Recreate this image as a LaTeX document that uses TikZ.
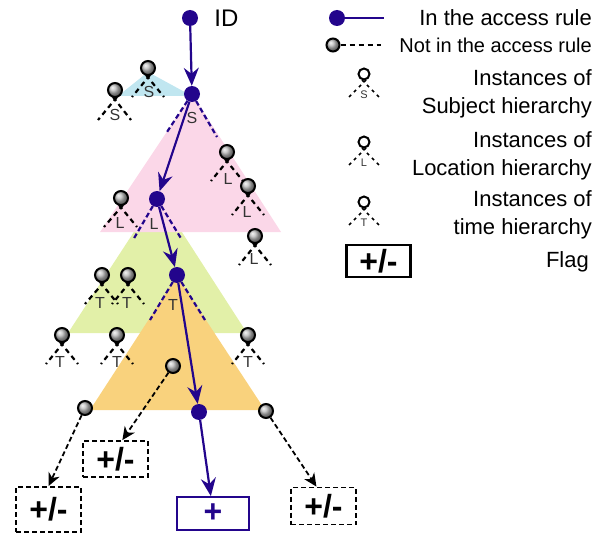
\documentclass[tikz,border=0pt]{standalone}
\usepackage{fontspec}
\setmainfont{Liberation Sans}
\usetikzlibrary{arrows.meta,positioning}

\definecolor{rulecol}{RGB}{35,5,140}
\definecolor{subjcol}{RGB}{192,230,240}
\definecolor{loccol}{RGB}{251,215,232}
\definecolor{timecol}{RGB}{226,240,168}
\definecolor{flagcol}{RGB}{249,210,125}

\tikzset{
  rulenode/.style={circle, fill=rulecol, inner sep=0pt, minimum size=16pt},
  instnode/.style={circle, draw=black, line width=2pt, shading=ball, ball color=gray!55, inner sep=0pt, minimum size=14pt},
  ringnode/.style={circle, draw=black, line width=2pt, fill=white, inner sep=0pt, minimum size=11pt},
  ruleleg/.style={rulecol, line width=2.2pt, dash pattern=on 5pt off 3pt},
  instleg/.style={black, line width=2.2pt, dash pattern=on 5pt off 4pt},
  tinyleg/.style={black, line width=1.6pt, dash pattern=on 3pt off 4pt},
  hlabel/.style={text=black!80, inner sep=0pt, font=\fontsize{16}{16}\selectfont},
  tinylabel/.style={text=black!80, inner sep=0pt, font=\fontsize{11}{11}\selectfont},
  rulearrow/.style={rulecol, line width=2.2pt, -{Stealth[length=18pt, width=15pt, inset=6pt]}},
  instarrow/.style={black, line width=1.8pt, dash pattern=on 5pt off 3pt, -{Stealth[length=13pt, width=12pt, inset=4pt]}},
  flagbox/.style={draw=black, line width=1.8pt, dash pattern=on 5pt off 3pt, inner sep=0pt, minimum width=65pt, minimum height=37pt, font=\fontsize{32}{32}\selectfont\bfseries},
  legtext/.style={inner sep=0pt, align=right, font=\fontsize{22}{28}\selectfont},
}

\begin{document}
\begin{tikzpicture}[x=1pt,y=-1pt]
\useasboundingbox (0,0) rectangle (606,535);

% hierarchies
\fill[subjcol] (148,72) -- (118,96) -- (192,96) -- cycle;
\fill[timecol] (158,195) -- (68,333) -- (247,333) -- cycle;
\fill[loccol] (192,94) -- (100,232) -- (281,232) -- cycle;
\fill[flagcol] (177,276) -- (90,410) -- (265,410) -- cycle;

% path of the rule
\node[rulenode] (id) at (190,18) {};
\node[inner sep=0pt, font=\fontsize{24}{24}\selectfont, right=16pt of id] (idtext) {ID};
\node[rulenode] (s) at (192,94) {};
\node[rulenode] (l) at (157,199) {};
\node[rulenode] (t) at (177,275) {};
\node[rulenode] (b) at (199,412) {};

\draw[ruleleg] (s) -- ++(-25,38) (s) -- ++(25,43);
\draw[ruleleg] (l) -- ++(-24,41) (l) -- ++(25,41);
\draw[ruleleg] (t) -- ++(-27,45) (t) -- ++(28,45);
\path (s) ++(0,24) node[hlabel] {S}
      (l) ++(-3,25) node[hlabel] {L}
      (t) ++(-4,30) node[hlabel] {T};

% other instances
\node[instnode] (s1) at (148,68) {};
\node[instnode] (s2) at (115,90) {};
\node[instnode] (l1) at (227,152) {};
\node[instnode] (l2) at (248,186) {};
\node[instnode] (l3) at (121,198) {};
\node[instnode] (l4) at (255,236) {};
\node[instnode] (t1) at (102,275) {};
\node[instnode] (t2) at (128,275) {};
\node[instnode] (t3) at (62,335) {};
\node[instnode] (t4) at (117,335) {};
\node[instnode] (t5) at (248,335) {};
\node[instnode] (g1) at (173,366) {};
\node[instnode] (g2) at (85,408) {};
\node[instnode] (g3) at (266,411) {};

\draw[instleg] (s1) ++(2,7) -- ++(-18,22) (s1) ++(-2,7) -- ++(18,22) (s1) ++(1,24) node[hlabel] {S};
\draw[instleg] (s2) ++(2,7) -- ++(-19,23) (s2) ++(-2,7) -- ++(18,23) (s2) ++(0,25) node[hlabel] {S};
\draw[instleg] (l1) ++(2,7) -- ++(-18,22) (l1) ++(-2,7) -- ++(18,22) (l1) ++(1,27) node[hlabel] {L};
\draw[instleg] (l2) ++(2,7) -- ++(-18,22) (l2) ++(-2,7) -- ++(18,22) (l2) ++(-1,26) node[hlabel] {L};
\draw[instleg] (l3) ++(2,7) -- ++(-19,22) (l3) ++(-2,7) -- ++(18,22) (l3) ++(-1,25) node[hlabel] {L};
\draw[instleg] (l4) ++(2,7) -- ++(-18,22) (l4) ++(-2,7) -- ++(18,22) (l4) ++(-1,23) node[hlabel] {L};
\draw[instleg] (t1) ++(2,7) -- ++(-19,22) (t1) ++(-2,7) -- ++(18,22) (t1) ++(-2,28) node[hlabel] {T};
\draw[instleg] (t2) ++(2,7) -- ++(-18,22) (t2) ++(-2,7) -- ++(18,22) (t2) ++(-1,28) node[hlabel] {T};
\draw[instleg] (t3) ++(2,7) -- ++(-18,22) (t3) ++(-2,7) -- ++(18,22) (t3) ++(-2,27) node[hlabel] {T};
\draw[instleg] (t4) ++(2,7) -- ++(-18,22) (t4) ++(-2,7) -- ++(18,22) (t4) ++(0,27) node[hlabel] {T};
\draw[instleg] (t5) ++(2,7) -- ++(-18,22) (t5) ++(-2,7) -- ++(18,22) (t5) ++(0,27) node[hlabel] {T};

% flags
\node[flagbox] (f1) at (48.5,509.5) [minimum height=45pt] {+/-};
\node[flagbox] (f2) at (115.5,459) [minimum height=36pt] {+/-};
\node[flagbox, draw=rulecol, text=rulecol, solid, minimum width=72pt, minimum height=33pt] (fplus) at (213,513.5) {+};
\node[flagbox] (f3) at (323.5,506) {+/-};

\draw[rulearrow] (id) -- (s);
\draw[rulearrow] (s) -- (l);
\draw[rulearrow] (l) -- (t);
\draw[rulearrow] (t) -- (b);
\draw[rulearrow] (b) -- (fplus.97);
\draw[instarrow] (g2) -- (f1.north);
\draw[instarrow] (g1) -- (f2.70);
\draw[instarrow] (g3) -- (f3.110);

% legend
\node[rulenode] (lgrule) at (337,18) {};
\coordinate (lgruleend) at (384,18);
\draw[rulecol, line width=2.2pt] (lgrule) -- (lgruleend);
\node[legtext, anchor=east] (txrule) at (592,18) {In the access rule};

\node[instnode, minimum size=13pt] (lginst) at (333,45) {};
\coordinate (lginstend) at (381,45);
\draw[black, line width=1.8pt, dash pattern=on 5pt off 4pt] (lginst) -- (lginstend);
\node[legtext, anchor=east, font=\fontsize{20}{24}\selectfont] (txinst) at (592,45) {Not in the access rule};

\node[ringnode] (lgs) at (364,74) {};
\draw[tinyleg] (lgs) ++(2,6) -- ++(-17,17) (lgs) ++(-2,6) -- ++(17,17) (lgs) ++(0,21) node[tinylabel] {S};
\node[legtext, anchor=east] (txsubj) at (592,94) {Instances of\\Subject hierarchy};

\node[ringnode] (lgl) at (364,142) {};
\draw[tinyleg] (lgl) ++(2,6) -- ++(-17,17) (lgl) ++(-2,6) -- ++(17,17) (lgl) ++(0,21) node[tinylabel] {L};
\node[legtext, anchor=east] (txloc) at (592,156) {Instances of\\Location hierarchy};

\node[ringnode] (lgt) at (364,202) {};
\draw[tinyleg] (lgt) ++(2,6) -- ++(-17,17) (lgt) ++(-2,6) -- ++(17,17) (lgt) ++(0,21) node[tinylabel] {T};
\node[legtext, anchor=east] (txtime) at (592,215) {Instances of\\time hierarchy};

\node[flagbox, solid, line width=2.2pt, minimum width=64pt, minimum height=32pt] (lgflag) at (378.5,261) {+/-};
\node[legtext, anchor=east] (txflag) at (589,262) {Flag};
\end{tikzpicture}
\end{document}
